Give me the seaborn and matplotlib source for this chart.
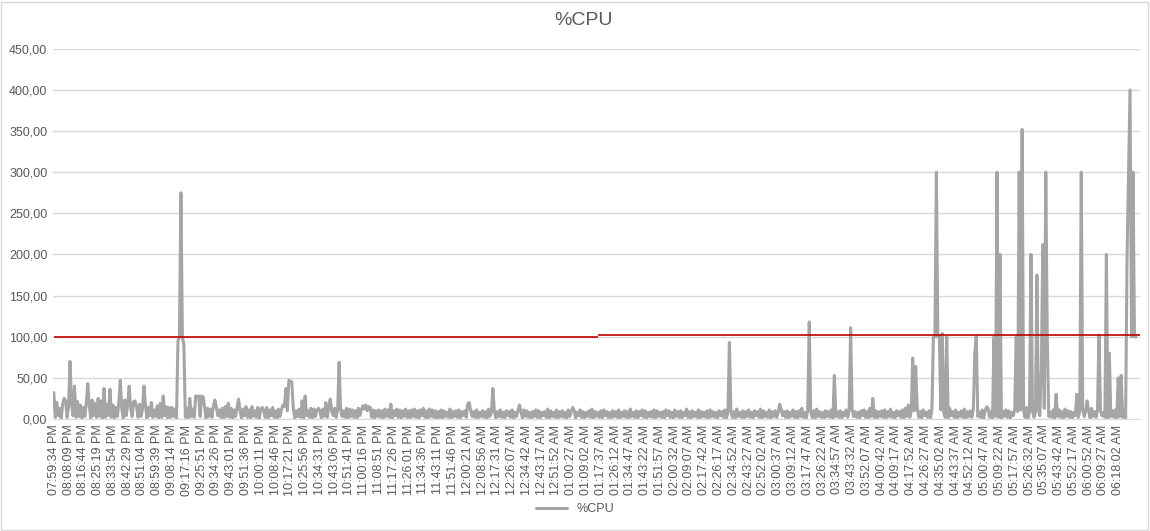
import numpy as np
import pandas as pd
import seaborn as sns
import matplotlib.pyplot as plt
from matplotlib.patches import Rectangle

# tick labels (one every 10 samples)
time_labels = [
    "07:59:34 PM", "08:08:09 PM", "08:16:44 PM", "08:25:19 PM", "08:33:54 PM", "08:42:29 PM",
    "08:51:04 PM", "08:59:39 PM", "09:08:14 PM", "09:17:16 PM", "09:25:51 PM", "09:34:26 PM",
    "09:43:01 PM", "09:51:36 PM", "10:00:11 PM", "10:08:46 PM", "10:17:21 PM", "10:25:56 PM",
    "10:34:31 PM", "10:43:06 PM", "10:51:41 PM", "11:00:16 PM", "11:08:51 PM", "11:17:26 PM",
    "11:26:01 PM", "11:34:36 PM", "11:43:11 PM", "11:51:46 PM", "12:00:21 AM", "12:08:56 AM",
    "12:17:31 AM", "12:26:07 AM", "12:34:42 AM", "12:43:17 AM", "12:51:52 AM", "01:00:27 AM",
    "01:09:02 AM", "01:17:37 AM", "01:26:12 AM", "01:34:47 AM", "01:43:22 AM", "01:51:57 AM",
    "02:00:32 AM", "02:09:07 AM", "02:17:42 AM", "02:26:17 AM", "02:34:52 AM", "02:43:27 AM",
    "02:52:02 AM", "03:00:37 AM", "03:09:12 AM", "03:17:47 AM", "03:26:22 AM", "03:34:57 AM",
    "03:43:32 AM", "03:52:07 AM", "04:00:42 AM", "04:09:17 AM", "04:17:52 AM", "04:26:27 AM",
    "04:35:02 AM", "04:43:37 AM", "04:52:12 AM", "05:00:47 AM", "05:09:22 AM", "05:17:57 AM",
    "05:26:32 AM", "05:35:07 AM", "05:43:42 AM", "05:52:17 AM", "06:00:52 AM", "06:09:27 AM",
    "06:18:02 AM",
]

# background %CPU level (noisy band)
cpu_base = [
    16, 2, 20, 4, 13, 1, 18, 3, 22, 2, 15, 1, 19, 4, 12, 2, 21, 3, 17, 1,
    14, 3, 20, 2, 16, 1, 12, 4, 19, 2, 15, 3, 22, 1, 13, 2, 18, 4, 11, 2,
    17, 1, 14, 3, 20, 2, 12, 1, 16, 4, 19, 2, 13, 3, 21, 1, 15, 2, 18, 3,
    12, 2, 17, 1, 14, 4, 20, 2, 11, 3, 16, 1, 19, 2, 13, 4, 15, 1, 18, 2,
    14, 3, 12, 1, 17, 2, 15, 4, 11, 2, 13, 1, 16, 3, 12, 2, 18, 1, 14, 3,
    11, 2, 15, 1, 13, 3, 12, 2, 16, 1, 14, 4, 11, 2, 13, 1, 15, 3, 12, 2,
    13, 1, 11, 3, 14, 2, 10, 1, 12, 4, 15, 2, 11, 1, 13, 3, 10, 2, 14, 1,
    12, 3, 10, 2, 13, 1, 11, 4, 14, 2, 10, 1, 12, 3, 11, 2, 15, 1, 10, 3,
    11, 2, 13, 1, 10, 3, 12, 2, 14, 1, 11, 4, 10, 2, 13, 1, 12, 3, 11, 2,
    10, 1, 12, 3, 11, 2, 14, 1, 10, 4, 13, 2, 11, 1, 12, 3, 10, 2, 13, 1,
    12, 3, 11, 2, 10, 1, 13, 4, 11, 2, 12, 1, 10, 3, 14, 2, 11, 1, 10, 3,
    11, 2, 10, 1, 12, 3, 11, 2, 13, 1, 10, 4, 12, 2, 11, 1, 10, 3, 12, 2,
    10, 1, 11, 3, 12, 2, 10, 1, 11, 4, 13, 2, 10, 1, 12, 3, 11, 2, 10, 1,
    9, 2, 11, 1, 10, 3, 8, 2, 12, 1, 9, 3, 10, 2, 11, 1, 9, 4, 10, 2,
    8, 1, 10, 3, 9, 2, 11, 1, 8, 3, 10, 2, 9, 1, 12, 3, 8, 2, 10, 1,
    9, 3, 11, 2, 8, 1, 10, 4, 9, 2, 11, 1, 8, 3, 10, 2, 9, 1, 11, 3,
    10, 2, 8, 1, 9, 3, 11, 2, 10, 1, 8, 4, 9, 2, 12, 1, 10, 3, 8, 2,
    11, 1, 9, 3, 10, 2, 8, 1, 11, 3, 9, 2, 10, 1, 8, 4, 11, 2, 9, 1,
    8, 3, 10, 2, 12, 1, 9, 3, 8, 2, 10, 1, 11, 4, 9, 2, 8, 1, 10, 3,
    9, 2, 11, 1, 8, 3, 10, 2, 9, 1, 12, 3, 8, 2, 10, 1, 9, 4, 11, 2,
    10, 1, 8, 3, 9, 2, 11, 1, 10, 3, 8, 2, 9, 1, 11, 4, 10, 2, 8, 1,
    11, 3, 9, 2, 10, 1, 8, 4, 12, 2, 9, 1, 10, 3, 8, 2, 11, 1, 9, 3,
    8, 2, 10, 1, 11, 3, 9, 2, 8, 1, 10, 4, 9, 2, 11, 1, 8, 3, 10, 2,
    9, 1, 12, 3, 8, 2, 10, 1, 9, 3, 11, 2, 8, 1, 10, 4, 9, 2, 12, 1,
    10, 3, 8, 2, 11, 1, 9, 3, 10, 2, 8, 1, 12, 4, 9, 2, 10, 1, 8, 3,
    11, 2, 9, 1, 10, 3, 13, 2, 8, 1, 11, 4, 9, 2, 10, 1, 12, 3, 9, 2,
    8, 1, 10, 3, 9, 2, 11, 1, 14, 3, 9, 2, 10, 1, 8, 4, 11, 2, 10, 1,
    12, 3, 9, 2, 8, 1, 10, 4, 11, 2, 9, 1, 13, 3, 8, 2, 10, 1, 9, 3,
    10, 2, 11, 1, 9, 3, 12, 2, 8, 1, 10, 4, 9, 2, 11, 1, 13, 3, 8, 2,
    9, 1, 10, 3, 14, 2, 9, 1, 11, 4, 8, 2, 10, 1, 12, 3, 9, 2, 10, 1,
    11, 3, 8, 2, 10, 1, 13, 4, 9, 2, 11, 1, 8, 3, 10, 2, 12, 1, 9, 3,
    10, 2, 12, 1, 9, 3, 8, 2, 11, 1, 10, 4, 13, 2, 9, 1, 10, 3, 8, 2,
    12, 1, 9, 3, 11, 2, 10, 1, 8, 4, 12, 2, 9, 1, 11, 3, 10, 2, 14, 1,
    9, 3, 10, 2, 8, 1, 11, 4, 10, 2, 13, 1, 9, 3, 8, 2, 11, 1, 10, 3,
    11, 2, 9, 1, 12, 3, 10, 2, 9, 1, 8, 4, 11, 2, 10, 1, 12, 3, 9, 2,
    10, 1, 13, 3, 9, 2, 11, 1, 10, 4, 8, 2, 12, 1, 9, 3, 10, 2, 11, 1,
    9, 3, 10, 2, 11, 1, 8, 4, 10, 2, 9, 1, 10,
]

# peaks: sample index -> %CPU
spike_idx = [0, 7, 11, 14, 23, 26, 30, 34, 38, 45,
             48, 51, 55, 61, 66, 74, 78, 84, 85, 86,
             87, 88, 92, 96, 97, 98, 100, 101, 109, 118,
             125, 134, 141, 144, 155, 157, 159, 160, 161, 168,
             170, 179, 184, 187, 193, 209, 211, 213, 228, 280,
             281, 297, 315, 351, 457, 491, 511, 528, 539, 554,
             578, 581, 583, 595, 596, 597, 598, 599, 601, 604,
             623, 624, 631, 636, 638, 640, 651, 653, 655, 661,
             665, 668, 669, 671, 672, 678, 692, 695, 699, 707,
             712, 714, 720, 722, 726, 727, 728, 729, 730, 731,
             732]
spike_val = [32, 25, 70, 40, 43, 23, 25, 37, 36, 47,
             23, 40, 22, 40, 20, 28, 14, 95, 100, 275,
             100, 90, 25, 28, 27, 28, 28, 27, 23, 19,
             24, 15, 14, 14, 17, 37, 47, 46, 45, 22,
             28, 13, 20, 24, 69, 16, 17, 15, 18, 18,
             20, 37, 17, 14, 93, 18, 118, 53, 111, 25,
             17, 74, 64, 100, 100, 300, 100, 100, 104, 100,
             80, 101, 15, 100, 300, 200, 100, 300, 352, 200,
             175, 60, 212, 300, 100, 30, 30, 300, 22, 102,
             200, 80, 50, 53, 200, 300, 400, 100, 300, 100,
             100]

# red limit line
limit_values = [100, 101.5]
limit_starts = [0, 368]
limit_ends = [368, 736]

cpu = np.array(cpu_base, dtype=float)
cpu[spike_idx] = spike_val
df = pd.DataFrame({"sample": np.arange(len(cpu)), "cpu": cpu})

sns.set_style("white")
plt.rcParams['font.family'] = ['Liberation Sans', 'DejaVu Sans']

fig = plt.figure(figsize=(11.5, 5.31), dpi=100)
ax = fig.add_axes([0.046, 0.211, 0.945, 0.697])

sns.lineplot(data=df, x="sample", y="cpu", ax=ax, color="#a5a5a5", lw=2.2, label="%CPU")
ax.hlines(limit_values, limit_starts, limit_ends, color="#c00000", lw=1.2, zorder=3)

ax.set_xlim(-0.6, 734.5)
ax.set_ylim(0, 450)
ax.set_yticks(np.arange(0, 451, 50))
ax.set_yticklabels([f"{v:.2f}".replace(".", ",") for v in np.arange(0, 451, 50)])
ax.set_xticks(np.arange(0, len(time_labels) * 10, 10))
ax.set_xticklabels(time_labels, rotation=90)
ax.tick_params(axis="both", length=0, labelsize=9, colors="#595959", pad=4)
ax.grid(axis="y", color="#d9d9d9", lw=1)
ax.set_xlabel("")
ax.set_ylabel("")
for s in ["left", "right", "top"]:
    ax.spines[s].set_visible(False)
ax.spines["bottom"].set_color("#d9d9d9")

ax.get_legend().remove()
fig.legend(*ax.get_legend_handles_labels(), loc="center", bbox_to_anchor=(0.5, 0.041),
           frameon=False, fontsize=9, labelcolor="#595959", handlelength=2.5)

fig.text(0.507, 0.962, "%CPU", ha="center", va="center", fontsize=14, color="#595959")
fig.patches.append(Rectangle((0.001, 0.002), 0.997, 0.995, transform=fig.transFigure,
                             fill=False, edgecolor="#d9d9d9", lw=1))

fig.savefig("out.png", dpi=100)
